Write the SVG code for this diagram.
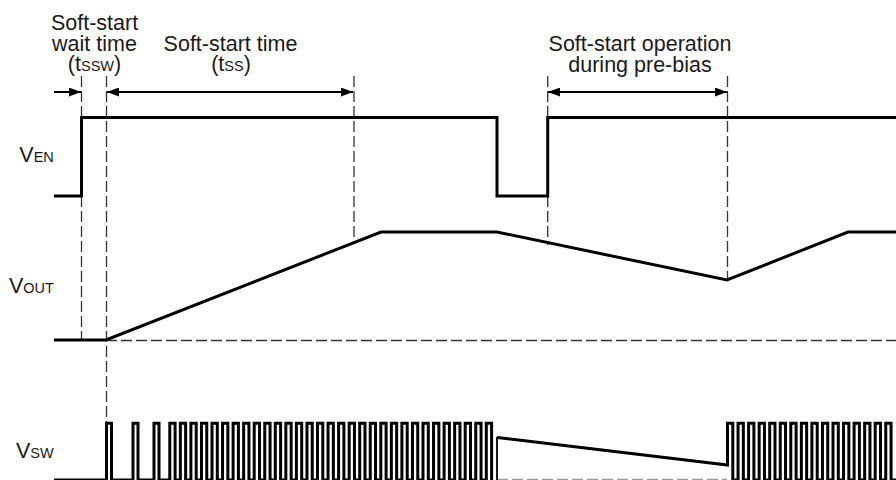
<svg xmlns="http://www.w3.org/2000/svg" width="896" height="480" viewBox="0 0 896 480">
<style>
.t{font-family:"Liberation Sans",Arial,sans-serif;font-size:21.500px;fill:#1a1a1a;text-anchor:middle}
.l{font-family:"Liberation Sans",Arial,sans-serif;font-size:21.500px;fill:#1a1a1a}
.s{font-size:14.500px}
.w{fill:none;stroke:#000;stroke-width:3;stroke-linejoin:miter}
.p{fill:none;stroke:#000;stroke-width:3;stroke-linejoin:miter}
.f{fill:none;stroke:#000;stroke-width:1.800}
.d{fill:none;stroke:#333;stroke-width:1.300;stroke-dasharray:11 4}
.g{fill:none;stroke:#999;stroke-width:1.500;stroke-dasharray:11 4}
.a{fill:none;stroke:#000;stroke-width:2}
</style>
<defs>
<marker id="ah" viewBox="0 0 12 9" refX="12" refY="4.500" markerWidth="12" markerHeight="9" markerUnits="userSpaceOnUse" orient="auto-start-reverse"><path d="M0 0L12 4.500L0 9Z" fill="#000"/></marker>
</defs>
<g id="connectors">
<path class="d" d="M81.500 76V340M106.500 76V422M354 76V243M547.700 76V245M727.500 76V280M106 340.500H896"/>
<path class="g" d="M497 479.400H727"/>
<path class="a" d="M54 92H81" marker-end="url(#ah)"/>
<path class="a" d="M107 92H353" marker-start="url(#ah)" marker-end="url(#ah)"/>
<path class="a" d="M548 92H727" marker-start="url(#ah)" marker-end="url(#ah)"/>
</g>
<g id="label-wait"><text class="t"><tspan x="94.500" y="30">Soft-start</tspan><tspan x="94.500" y="51">wait time</tspan><tspan x="94.500" y="71">(t<tspan class="s">SSW</tspan>)</tspan></text></g>
<g id="label-time"><text class="t"><tspan x="230.500" y="51">Soft-start time</tspan><tspan x="231" y="71">(t<tspan class="s">SS</tspan>)</tspan></text></g>
<g id="label-prebias"><text class="t"><tspan x="640" y="51">Soft-start operation</tspan><tspan x="640" y="72">during pre-bias</tspan></text></g>
<g id="v-en"><text class="l" x="19.300" y="161.500">V<tspan class="s">EN</tspan></text><path class="w" d="M54 196H81.500V117.500H497V196H547.700V117.500H896"/></g>
<g id="v-out"><text class="l" x="9" y="292.500">V<tspan class="s">OUT</tspan></text><path class="w" d="M54 340H106L381 232H497L727 280L848 232H896"/></g>
<g id="v-sw"><text class="l" x="16" y="458.300">V<tspan class="s">SW</tspan></text>
<path class="p" d="M54 480H106.500V423.200H111.500V480H133V423.200H138V480H154V423.200H159V480H169.800v-56.800h5.300v56.800h5.250v-56.800h5.300v56.800h5.250v-56.800h5.300v56.800h5.250v-56.800h5.300v56.800h5.250v-56.800h5.300v56.800h5.250v-56.800h5.300v56.800h5.250v-56.800h5.300v56.800h5.250v-56.800h5.300v56.800h5.250v-56.800h5.300v56.800h5.250v-56.800h5.300v56.800h5.250v-56.800h5.300v56.800h5.250v-56.800h5.300v56.800h5.250v-56.800h5.300v56.800h5.250v-56.800h5.300v56.800h5.250v-56.800h5.300v56.800h5.250v-56.800h5.300v56.800h5.250v-56.800h5.300v56.800h5.250v-56.800h5.300v56.800h5.250v-56.800h5.300v56.800h5.250v-56.800h5.300v56.800h5.250v-56.800h5.300v56.800h5.250v-56.800h5.300v56.800h5.250v-56.800h5.300v56.800h5.250v-56.800h5.300v56.800h5.250v-56.800h5.300v56.800h5.250v-56.800h5.300v56.800h5.250v-56.800h5.300v56.800h5.250v-56.800h5.300v56.800h5.250v-56.800h5.300v56.800h5.250v-56.800h5.300v56.800h5.250v-56.800h5.300v56.800"/>
<path class="f" d="M497 480V437"/>
<path class="p" d="M497 437.500L727.500 465V423.200H732.800V480h5.250v-56.800h5.300v56.800h5.250v-56.800h5.300v56.800h5.250v-56.800h5.300v56.800h5.250v-56.800h5.300v56.800h5.250v-56.800h5.300v56.800h5.250v-56.800h5.300v56.800h5.250v-56.800h5.300v56.800h5.250v-56.800h5.300v56.800h5.250v-56.800h5.300v56.800h5.250v-56.800h5.300v56.800h5.250v-56.800h5.300v56.800h5.250v-56.800h5.300v56.800h5.250v-56.800h5.300v56.800h5.250v-56.800h5.300v56.800h5.250v-56.800h5.300v56.800h5.250"/>
</g>
</svg>
